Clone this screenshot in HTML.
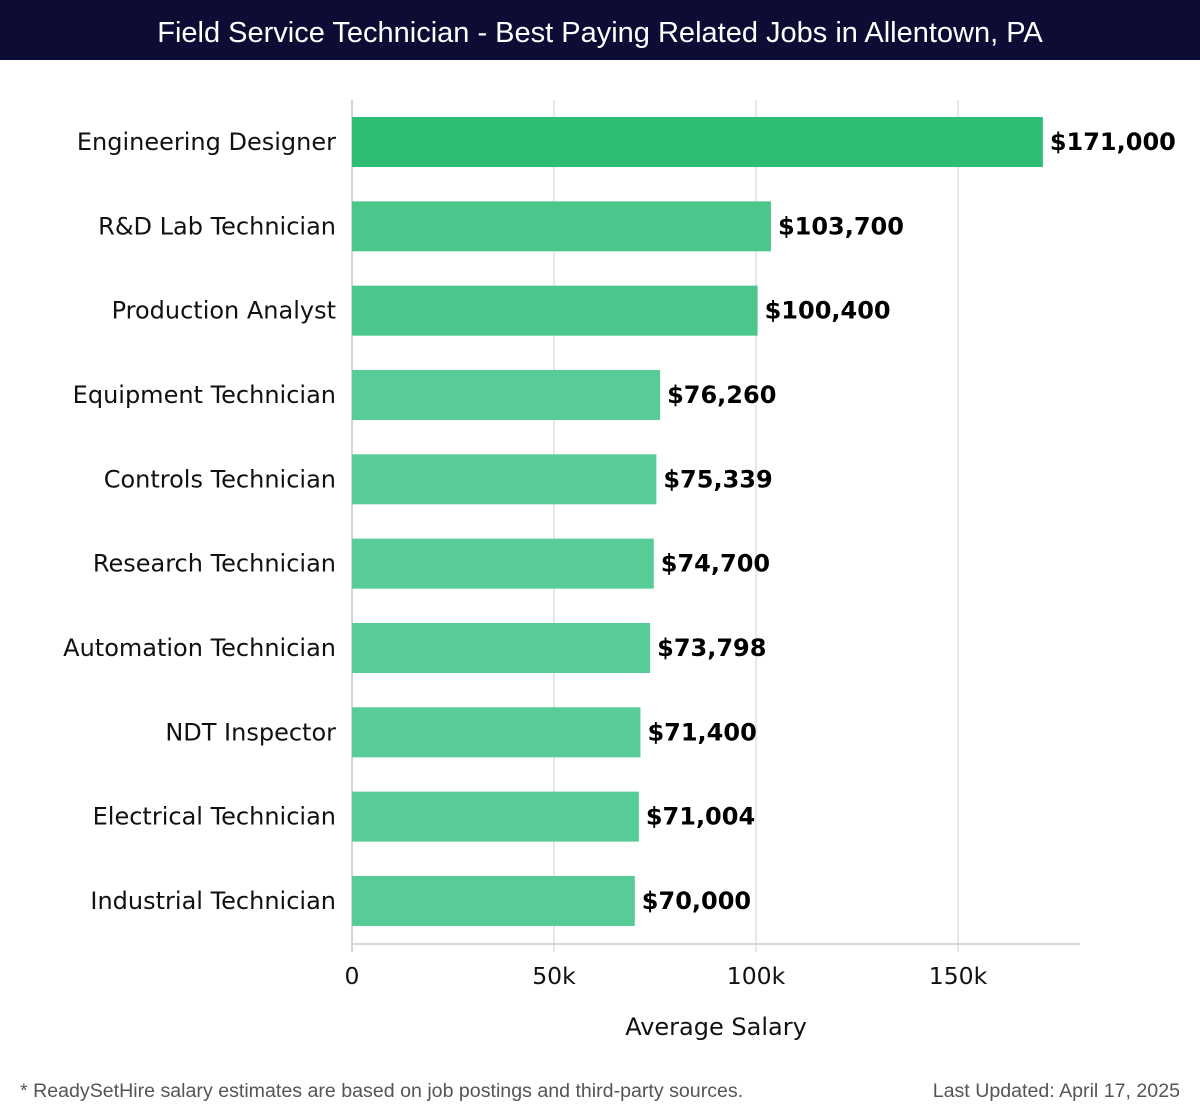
<!DOCTYPE html>
<html><head><meta charset="utf-8"><style>
body{margin:0;width:1200px;height:1120px;background:#fff;font-family:"Liberation Sans","DejaVu Sans",sans-serif;overflow:hidden}
#title{position:absolute;left:0;top:0;width:1200px;height:60px;background:#0c0c34;color:#fff;font-size:29px;line-height:66px;text-align:center}
.foot{position:absolute;top:1080px;font-size:19.6px;color:#555}
svg text{font-family:"DejaVu Sans","Liberation Sans",sans-serif}
</style></head><body>
<div id="title">Field Service Technician - Best Paying Related Jobs in Allentown, PA</div>
<svg id="chart" width="1200" height="1120" style="position:absolute;left:0;top:0"></svg>
<div class="foot" style="left:20px">* ReadySetHire salary estimates are based on job postings and third-party sources.</div>
<div class="foot" style="right:20px">Last Updated: April 17, 2025</div>
<script>
const categories=["Engineering Designer","R&D Lab Technician","Production Analyst","Equipment Technician","Controls Technician","Research Technician","Automation Technician","NDT Inspector","Electrical Technician","Industrial Technician"];
const values=[171000,103700,100400,76260,75339,74700,73798,71400,71004,70000];
const valueLabels=["$171,000","$103,700","$100,400","$76,260","$75,339","$74,700","$73,798","$71,400","$71,004","$70,000"];
const ticks=[0,50000,100000,150000];
const tickLabels=["0","50k","100k","150k"];
const NS="http://www.w3.org/2000/svg";
const svg=document.getElementById('chart');
const x=v=>352+v*202/50000;
const y=i=>142+i*84.33;
function mk(t,a){const e=document.createElementNS(NS,t);for(const k in a)e.setAttribute(k,a[k]);svg.appendChild(e);return e;}
ticks.forEach((t,i)=>{
 const g=mk('line',{x1:x(t),x2:x(t),y1:100,y2:952,stroke:'#e0e0e0','stroke-width':1.5});
 
 
 const l=mk('text',{x:x(t),y:984,'text-anchor':'middle','font-size':23.5,fill:'#111'});
 l.textContent=tickLabels[i];
 
 
});
const ax=mk('line',{x1:352,x2:1080,y1:944,y2:944,stroke:'#ccc','stroke-width':1.5});


const yl=mk('line',{x1:352,x2:352,y1:100,y2:952,stroke:'#ccc','stroke-width':1.5});


categories.forEach((c,i)=>{
 const r=mk('rect',{x:352,y:y(i)-25,width:x(values[i])-352,height:50,fill:i==0?'#2dbd74':(i<3?'#4cc78c':'#57cc96')});
 
 
 const t=mk('text',{x:336,y:y(i)+8,'text-anchor':'end','font-size':24,fill:'#111'});
 t.textContent=c;
 
 
 const v=mk('text',{x:x(values[i])+7,y:y(i)+8,'font-size':24,'font-weight':'bold',fill:'#000'});
 v.textContent=valueLabels[i];
 
 
});
const at=mk('text',{x:716,y:1035,'text-anchor':'middle','font-size':24,fill:'#111'});
at.textContent='Average Salary';


</script>
</body></html>
